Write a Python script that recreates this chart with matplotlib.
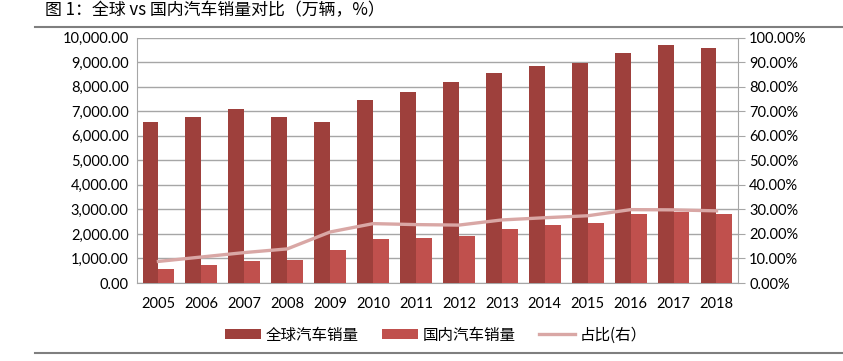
import numpy as np
import matplotlib
matplotlib.use("Agg")
import matplotlib.pyplot as plt
from matplotlib.lines import Line2D
from matplotlib.ticker import FuncFormatter

plt.rcParams['font.family'] = ['Lato', 'Noto Sans CJK SC', 'DejaVu Sans']

years = ["2005", "2006", "2007", "2008", "2009", "2010", "2011",
         "2012", "2013", "2014", "2015", "2016", "2017", "2018"]
global_sales = [6550, 6780, 7100, 6780, 6550, 7450, 7790,
                8200, 8560, 8830, 8960, 9380, 9680, 9590]
china_sales = [575, 720, 880, 940, 1365, 1806, 1850,
               1930, 2198, 2349, 2460, 2803, 2888, 2808]
share = [8.8, 10.6, 12.4, 13.9, 20.8, 24.2, 23.8,
         23.6, 25.7, 26.6, 27.4, 29.9, 29.8, 29.4]

fig = plt.figure(figsize=(8.43, 3.61), dpi=100)
ax = fig.add_axes([0.1625, 0.216, 0.7129, 0.680])

x = np.arange(len(years))
w = 0.37
ax.bar(x - w / 2, global_sales, w, color="#9E403C", label="全球汽车销量", zorder=3)
ax.bar(x + w / 2, china_sales, w, color="#C0504D", label="国内汽车销量", zorder=3)

ax.set_xlim(-0.5, len(years) - 0.5)
ax.set_ylim(0, 10000)
ax.set_yticks(np.arange(0, 10001, 1000))
ax.yaxis.set_major_formatter(FuncFormatter(lambda v, p: f"{v:,.2f}"))
ax.set_xticks(x)
ax.set_xticklabels(years)
ax.grid(axis="y", color="#A6A6A6", linewidth=1, zorder=0)
for s in ["top", "right"]:
    ax.spines[s].set_visible(False)
for s in ["left", "bottom"]:
    ax.spines[s].set_color("#A6A6A6")
ax.tick_params(axis="y", length=0, labelsize=10.5, pad=6)
ax.tick_params(axis="x", length=0, labelsize=10.5, pad=10)

ax2 = ax.twinx()
ax2.plot(x, share, color="#D9A7A5", linewidth=2.4, label="占比(右）", zorder=4)
ax2.set_ylim(0, 100)
ax2.set_yticks(np.arange(0, 101, 10))
ax2.yaxis.set_major_formatter(FuncFormatter(lambda v, p: f"{v:.2f}%"))
for s in ["top", "left", "bottom"]:
    ax2.spines[s].set_visible(False)
ax2.spines["right"].set_color("#A6A6A6")
ax2.tick_params(axis="y", length=5, color="#A6A6A6", labelsize=10.5, pad=3)

h1, l1 = ax.get_legend_handles_labels()
h2, l2 = ax2.get_legend_handles_labels()
fig.legend(h1 + h2, l1 + l2, loc="center", bbox_to_anchor=(0.517, 0.072),
           ncol=3, frameon=False, handlelength=2.3,
           handleheight=0.6, handletextpad=0.3, columnspacing=1.5,
           prop={'family': ['Noto Sans CJK SC', 'DejaVu Sans'], 'size': 11.2})

fig.text(0.053, 0.972, "图 1：全球 vs 国内汽车销量对比（万辆，%）",
         fontsize=12.2, va="center", ha="left",
         family=['Noto Sans CJK SC', 'DejaVu Sans'])

fig.add_artist(Line2D([0.042, 1.0], [0.925, 0.925], color="#7F7F7F", linewidth=1.5))
fig.add_artist(Line2D([0.042, 1.0], [0.022, 0.022], color="#7F7F7F", linewidth=1.5))

fig.savefig("out.png", dpi=100)
